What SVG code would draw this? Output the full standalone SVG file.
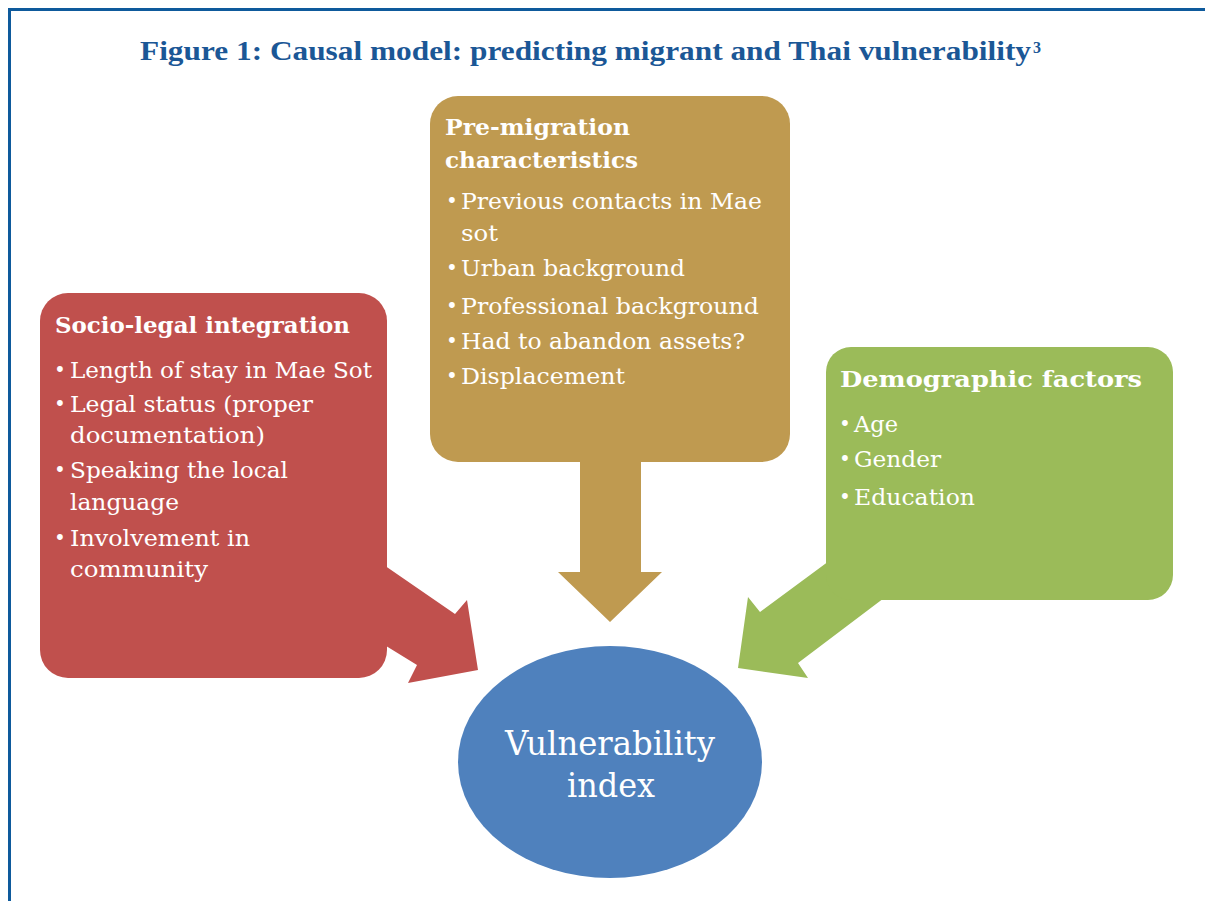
<svg xmlns="http://www.w3.org/2000/svg" width="1205" height="901" viewBox="0 0 1205 901">
<style>
.frame{fill:none;stroke:#0E5A9C;stroke-width:3}
.title{font-family:"Liberation Serif","Times New Roman",serif;font-weight:bold;font-size:28px;fill:#1B5796}
.sup{font-family:"Liberation Serif","Times New Roman",serif;font-weight:bold;font-size:16px;fill:#1B5796}
.hd{font-family:"DejaVu Serif","Liberation Serif",serif;font-weight:bold;font-size:23px;fill:#FFFFFF}
.it{font-family:"DejaVu Serif","Liberation Serif",serif;font-size:23px;fill:#FFFFFF}
.bul{font-family:"DejaVu Serif","Liberation Serif",serif;font-size:20px;fill:#FFFFFF;text-anchor:middle}
.big{font-family:"DejaVu Serif","Liberation Serif",serif;font-size:34px;fill:#FFFFFF;text-anchor:middle}
.red{fill:#C0504D}
.tan{fill:#BF9A50}
.grn{fill:#9BBB59}
.blu{fill:#4F81BD}
</style>
<rect x="0" y="0" width="1205" height="901" fill="#FFFFFF"/>
<path class="frame" d="M9.5 901 V9.5 H1205"/>
<text class="title" x="140" y="60" textLength="891" lengthAdjust="spacingAndGlyphs">Figure 1: Causal model: predicting migrant and Thai vulnerability</text>
<text class="sup" x="1033" y="53">3</text>

<g id="connectors">
  <polygon id="arrow-socio" class="red" points="365,552 455,614 467,600 478,670 408,683 417,665 365,633"/>
  <polygon id="arrow-premig" class="tan" points="580,440 641,440 641,572 662,572 610,622 558,572 580,572"/>
  <polygon id="arrow-demo" class="grn" points="848,547 760,612 748,597 738,668 808,678 798,663 892,592"/>
</g>

<g id="node-socio">
  <rect class="red" x="40" y="293" width="347" height="385" rx="28"/>
  <text class="hd" x="55" y="333" textLength="295" lengthAdjust="spacingAndGlyphs">Socio-legal integration</text>
  <text class="bul" x="60" y="377">•</text>
  <text class="it" x="70" y="378" textLength="302" lengthAdjust="spacingAndGlyphs">Length of stay in Mae Sot</text>
  <text class="bul" x="60" y="411">•</text>
  <text class="it" x="70" y="412" textLength="243" lengthAdjust="spacingAndGlyphs">Legal status (proper</text>
  <text class="it" x="70" y="443" textLength="195" lengthAdjust="spacingAndGlyphs">documentation)</text>
  <text class="bul" x="60" y="477">•</text>
  <text class="it" x="70" y="478" textLength="218" lengthAdjust="spacingAndGlyphs">Speaking the local</text>
  <text class="it" x="70" y="510" textLength="109" lengthAdjust="spacingAndGlyphs">language</text>
  <text class="bul" x="60" y="545">•</text>
  <text class="it" x="70" y="546" textLength="180" lengthAdjust="spacingAndGlyphs">Involvement in</text>
  <text class="it" x="70" y="577" textLength="138" lengthAdjust="spacingAndGlyphs">community</text>
</g>

<g id="node-premigration">
  <rect class="tan" x="430" y="96" width="360" height="366" rx="28"/>
  <text class="hd" x="445" y="135" textLength="185" lengthAdjust="spacingAndGlyphs">Pre-migration</text>
  <text class="hd" x="445" y="168" textLength="193" lengthAdjust="spacingAndGlyphs">characteristics</text>
  <text class="bul" x="452" y="208">•</text>
  <text class="it" x="461" y="209" textLength="301" lengthAdjust="spacingAndGlyphs">Previous contacts in Mae</text>
  <text class="it" x="461" y="241" textLength="37" lengthAdjust="spacingAndGlyphs">sot</text>
  <text class="bul" x="452" y="275">•</text>
  <text class="it" x="461" y="276" textLength="224" lengthAdjust="spacingAndGlyphs">Urban background</text>
  <text class="bul" x="452" y="313">•</text>
  <text class="it" x="461" y="314" textLength="298" lengthAdjust="spacingAndGlyphs">Professional background</text>
  <text class="bul" x="452" y="348">•</text>
  <text class="it" x="461" y="349" textLength="284" lengthAdjust="spacingAndGlyphs">Had to abandon assets?</text>
  <text class="bul" x="452" y="383">•</text>
  <text class="it" x="461" y="384" textLength="164" lengthAdjust="spacingAndGlyphs">Displacement</text>
</g>

<g id="node-demographic">
  <rect class="grn" x="826" y="347" width="347" height="253" rx="25"/>
  <text class="hd" x="840" y="387" textLength="302" lengthAdjust="spacingAndGlyphs">Demographic factors</text>
  <text class="bul" x="845" y="431">•</text>
  <text class="it" x="854" y="432" textLength="44" lengthAdjust="spacingAndGlyphs">Age</text>
  <text class="bul" x="845" y="466">•</text>
  <text class="it" x="854" y="467" textLength="87" lengthAdjust="spacingAndGlyphs">Gender</text>
  <text class="bul" x="845" y="504">•</text>
  <text class="it" x="854" y="505" textLength="121" lengthAdjust="spacingAndGlyphs">Education</text>
</g>

<g id="node-vulnerability">
  <ellipse class="blu" cx="610" cy="762" rx="152" ry="116"/>
  <text class="big" x="610" y="755" textLength="210" lengthAdjust="spacingAndGlyphs">Vulnerability</text>
  <text class="big" x="611" y="797" textLength="88" lengthAdjust="spacingAndGlyphs">index</text>
</g>
</svg>
